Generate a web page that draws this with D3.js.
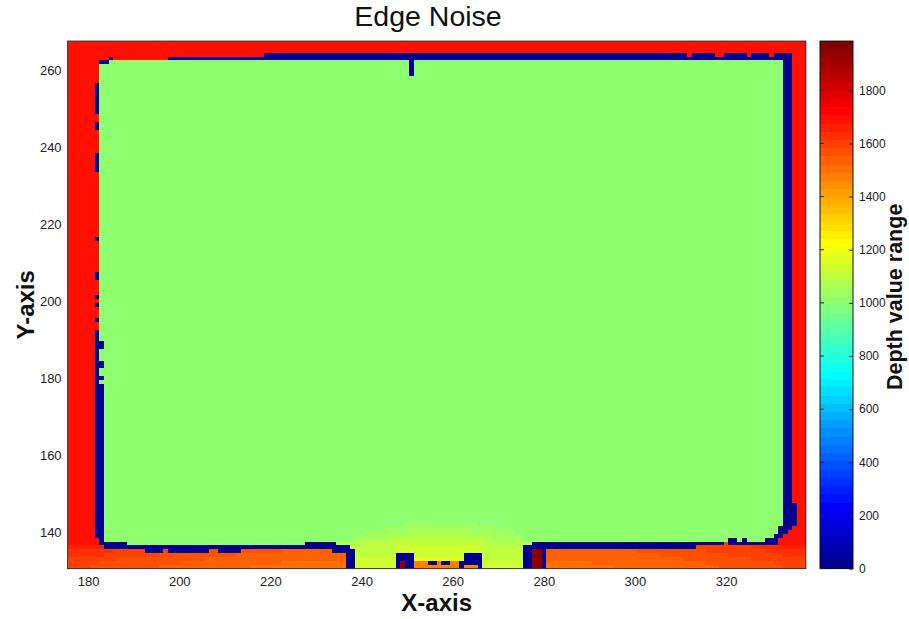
<!DOCTYPE html>
<html><head><meta charset="utf-8">
<script src="https://cdn.jsdelivr.net/npm/d3@7"></script>
<style>
body{margin:0;background:#fff}
svg{display:block}
text{font-family:"Liberation Sans",Arial,Helvetica,sans-serif}
</style>
</head><body>
<svg id="chart" width="909" height="619"></svg>
<script>
// ---------------- data ----------------
const chartTitle = "Edge Noise";
const xLabel = "X-axis";
const yLabel = "Y-axis";
const cLabel = "Depth value range";
const xTicks = [180, 200, 220, 240, 260, 280, 300, 320];
const yTicks = [140, 160, 180, 200, 220, 240, 260];
const cTicks = [0, 200, 400, 600, 800, 1000, 1200, 1400, 1600, 1800];
const xCols = [176, 337];      // first / last pixel column
const yRows = [131, 267];      // first / last pixel row
const colorMax = 1985;         // colour limit (min is 0)
// value codes used in the run-length rows
const codeKeys   = ["B", "G",  "h",  "i",  "j",  "k",  "l",  "a",  "b",  "c",  "d",  "e",  "f",  "g",  "R",  "D"];
const codeValues = [0,   1020, 1050, 1080, 1110, 1140, 1170, 1475, 1505, 1535, 1565, 1600, 1630, 1660, 1690, 1950];
// depth rows from top (y=267) to bottom (y=131): "repeat:runs"
const depthRows = [
  "3:R162",
  "1:R43 B93 R1 B5 R2 B5 R1 B4 R1 B4 R3",
  "1:R9 B1 R12 B137 R3",
  "1:R7 B2 G66 B1 G81 B2 R3",
  "3:R7 G68 B1 G81 B2 R3",
  "2:R7 G150 B2 R3",
  "8:R6 B1 G150 B2 R3",
  "2:R7 G150 B2 R3",
  "2:R6 B1 G150 B2 R3",
  "6:R7 G150 B2 R3",
  "5:R6 B1 G150 B2 R3",
  "17:R7 G150 B2 R3",
  "1:R6 B1 G150 B2 R3",
  "8:R7 G150 B2 R3",
  "2:R6 B1 G150 B2 R3",
  "4:R7 G150 B2 R3",
  "1:R6 B1 G150 B2 R3",
  "1:R7 G150 B2 R3",
  "1:R6 B1 G150 B2 R3",
  "3:R7 G150 B2 R3",
  "1:R6 B1 G150 B2 R3",
  "2:R7 G150 B2 R3",
  "3:R6 B1 G150 B2 R3",
  "2:R6 B2 G149 B2 R3",
  "3:R6 B1 G150 B2 R3",
  "2:R6 B2 G149 B2 R3",
  "2:R6 B1 G150 B2 R3",
  "1:R6 B2 G149 B2 R3",
  "1:R6 B1 G150 B2 R3",
  "31:R6 B2 G149 B2 R3",
  "5:R6 B2 G149 B3 R2",
  "1:R6 B2 G66 h16 G67 B3 R2",
  "1:R6 B2 G61 h26 G61 B3 R3",
  "1:R6 B2 G57 h9 i15 h9 G58 B2 R4",
  "1:R6 B2 G55 h7 i23 h7 G55 B2 R5",
  "1:R7 B1 G55 i9 j19 i9 G45 B2 G1 B1 G4 B3 R6",
  "1:R7 B6 G39 B7 i6 j27 i10 B42 e1 B11 R6",
  "1:g8 B54 j10 k19 j9 B38 e12 f6 g6",
  "1:f10 e7 B4 e1 B9 d2 B5 d9 c11 B5 j9 k19 j9 B2 D2 B1 c20 d15 e13 f9",
  "1:f8 e12 d17 c24 B2 j9 B4 k11 B4 j9 B2 D2 B1 c25 d15 e12 f5",
  "1:e11 d19 c31 B2 k9 B4 l11 B4 j9 B2 D2 B1 c30 d15 e12",
  "1:e7 d18 c22 b14 B2 k9 B1 D1 B2 a3 B2 a1 B2 a2 B5 k9 B2 D2 B1 b10 c25 d15 e7",
  "1:e5 d15 c20 b21 B2 k9 B1 D1 B2 a10 B1 a3 B1 k9 B2 D2 B1 b15 c23 d14 e5"
];

// ---------------- build cells ----------------
const codeMap = new Map(codeKeys.map((k, i) => [k, codeValues[i]]));
const cells = [];
let rowY = yRows[1];
depthRows.forEach(line => {
  const [rep, runs] = line.split(":");
  for (let r = 0; r < +rep; r++) {
    let col = xCols[0];
    runs.trim().split(/\s+/).forEach(tok => {
      const v = codeMap.get(tok[0]);
      const n = +tok.slice(1);
      for (let k = 0; k < n; k++) { cells.push({x: col, y: rowY, v}); col++; }
    });
    rowY--;
  }
});

// MATLAB jet(64)
function jet64(i) {
  const u = k => k <= 16 ? k / 16 : (k <= 31 ? 1 : (48 - k) / 16);
  const ch = k => (k >= 1 && k <= 47) ? u(k) : 0;
  const c = [ch(i - 24), ch(i - 8), ch(i + 8)].map(t => Math.round(t * 255));
  return `rgb(${c[0]},${c[1]},${c[2]})`;
}
const colorOf = v => jet64(Math.min(64, Math.floor(v / colorMax * 64) + 1));

// ---------------- layout ----------------
const svg = d3.select("#chart");
const plot = {left: 67.6, right: 805.8, top: 41.1, bottom: 568.6};
const x = d3.scaleLinear().domain([xCols[0] - 0.5, xCols[1] + 0.5]).range([plot.left, plot.right]);
const y = d3.scaleLinear().domain([yRows[0] - 0.5, yRows[1] + 0.5]).range([plot.bottom, plot.top]);

svg.append("g").attr("shape-rendering", "crispEdges")
  .selectAll("rect").data(cells).join("rect")
  .attr("x", d => x(d.x - 0.5))
  .attr("y", d => y(d.y + 0.5))
  .attr("width", d => x(d.x + 0.5) - x(d.x - 0.5))
  .attr("height", d => y(d.y - 0.5) - y(d.y + 0.5))
  .attr("fill", d => colorOf(d.v));

svg.append("rect").attr("x", plot.left).attr("y", plot.top)
  .attr("width", plot.right - plot.left).attr("height", plot.bottom - plot.top)
  .attr("fill", "none").attr("stroke", "#333").attr("stroke-width", 1);

const styleAxis = g => {
  g.select(".domain").remove();
  g.selectAll("text").attr("fill", "#222").style("font-size", "13px")
    .style("font-family", '"Liberation Sans",Arial,sans-serif');
};
svg.append("g").attr("transform", `translate(0,${plot.bottom})`)
  .call(d3.axisBottom(x).tickValues(xTicks).tickSize(0).tickPadding(8))
  .call(styleAxis);
svg.append("g").attr("transform", `translate(${plot.left},0)`)
  .call(d3.axisLeft(y).tickValues(yTicks).tickSize(0).tickPadding(6))
  .call(styleAxis);

// colorbar
const cb = {left: 820, right: 853};
const cy = d3.scaleLinear().domain([0, colorMax]).range([plot.bottom, plot.top]);
svg.append("g").attr("shape-rendering", "crispEdges")
  .selectAll("rect").data(d3.range(64)).join("rect")
  .attr("x", cb.left).attr("width", cb.right - cb.left)
  .attr("y", k => cy((k + 1) * colorMax / 64))
  .attr("height", k => cy(k * colorMax / 64) - cy((k + 1) * colorMax / 64))
  .attr("fill", k => jet64(k + 1));
svg.append("rect").attr("x", cb.left).attr("y", plot.top)
  .attr("width", cb.right - cb.left).attr("height", plot.bottom - plot.top)
  .attr("fill", "none").attr("stroke", "#111").attr("stroke-width", 1);
const cAxis = svg.append("g").attr("transform", `translate(${cb.right},0)`)
  .call(d3.axisRight(cy).tickValues(cTicks).tickSize(-4).tickPadding(6).tickFormat(d3.format("d")))
  .call(styleAxis);
cAxis.selectAll("line").attr("stroke", "#222");
cAxis.selectAll("text").style("font-size", "12px");
svg.append("g").selectAll("line").data(cTicks).join("line")
  .attr("x1", cb.left).attr("x2", cb.left + 4)
  .attr("y1", d => cy(d)).attr("y2", d => cy(d)).attr("stroke", "#222");

// titles
svg.append("text").attr("x", 428).attr("y", 26)
  .attr("text-anchor", "middle").style("font-size", "28.5px").attr("fill", "#111").text(chartTitle);
svg.append("text").attr("x", (plot.left + plot.right) / 2).attr("y", 611)
  .attr("text-anchor", "middle").style("font-size", "24px").style("font-weight", "bold")
  .attr("fill", "#111").text(xLabel);
svg.append("text").attr("transform", `translate(34,${(plot.top + plot.bottom) / 2}) rotate(-90)`)
  .attr("text-anchor", "middle").style("font-size", "24px").style("font-weight", "bold")
  .attr("fill", "#111").text(yLabel);
svg.append("text").attr("transform", `translate(902,${(plot.top + plot.bottom) / 2 - 8}) rotate(-90)`)
  .attr("text-anchor", "middle").style("font-size", "21.5px").style("font-weight", "bold")
  .attr("fill", "#111").text(cLabel);
</script>
</body></html>
